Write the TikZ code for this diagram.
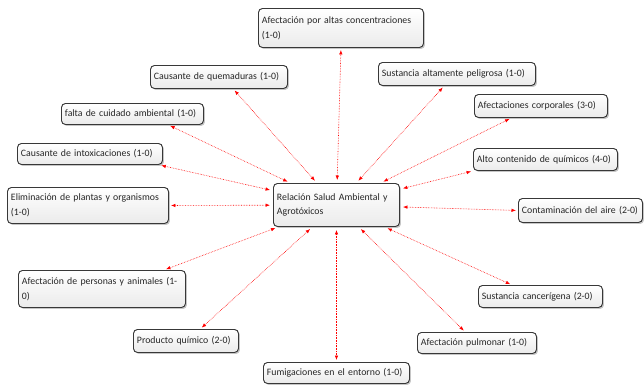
\documentclass[tikz,border=0pt]{standalone}
\usepackage{fontspec}
\setmainfont{Carlito}
\usetikzlibrary{arrows.meta,shadows}

\begin{document}
\begin{tikzpicture}[
    x=1pt, y=-1pt,
    font=\fontsize{9.8}{14.8}\selectfont,
    box/.style={draw=black!78, line width=0.95pt, rounded corners=4pt, top color=white, bottom color=black!8,
      drop shadow={shadow xshift=1.5pt, shadow yshift=-1.5pt, opacity=0.45},
      anchor=north west, align=left, inner xsep=3.5pt, inner ysep=2pt, text=black!85},
    link/.style={red, densely dotted, line width=0.6pt, {Latex[length=4.5pt,width=3.5pt]}-{Latex[length=4.5pt,width=3.5pt]}, shorten <=3pt, shorten >=2pt}
  ]
  \useasboundingbox (0,0) rectangle (644,384);

  % Central concept
  \node[box, text width=119pt, minimum height=43pt] at (273,183) (hub) {Relación Salud Ambiental y\\Agrotóxicos};

  % Surrounding concepts
  \node[box, text width=158pt, minimum height=39pt] at (258,8) (altas) {Afectación por altas concentraciones\\(1-0)};
  \node[box, text width=130pt, minimum height=23pt] at (150,65) (quem) {Causante de quemaduras (1-0)};
  \node[box, text width=150pt, minimum height=23pt] at (378,62) (pelig) {Sustancia altamente peligrosa (1-0)};
  \node[box, text width=135pt, minimum height=21pt] at (61,103) (falta) {falta de cuidado ambiental (1-0)};
  \node[box, text width=126pt, minimum height=23pt] at (474,94) (corp) {Afectaciones corporales (3-0)};
  \node[box, text width=138pt, minimum height=21pt] at (17,143) (intox) {Causante de intoxicaciones (1-0)};
  \node[box, text width=137pt, minimum height=22pt] at (473,148) (alto) {Alto contenido de químicos (4-0)};
  \node[box, text width=154pt, minimum height=36pt] at (7,187) (elim) {Eliminación de plantas y organismos\\(1-0)};
  \node[box, text width=117pt, minimum height=24pt] at (518,198) (contam) {Contaminación del aire (2-0)};
  \node[box, text width=160pt, minimum height=37pt] at (18,270) (pers) {Afectación de personas y animales (1-\\0)};
  \node[box, text width=117pt, minimum height=22pt] at (478,285) (cancer) {Sustancia cancerígena (2-0)};
  \node[box, text width=98pt, minimum height=23pt] at (133,329) (prod) {Producto químico (2-0)};
  \node[box, text width=112pt, minimum height=21pt] at (417,332) (pulm) {Afectación pulmonar (1-0)};
  \node[box, text width=139pt, minimum height=21pt] at (263,362) (fumig) {Fumigaciones en el entorno (1-0)};

  % Connectors
  \draw[link] (hub) -- (altas.south);
  \draw[link] (hub) -- (quem.-40);
  \draw[link] (hub) -- (pelig.-137);
  \draw[link] (hub) -- (falta.-17);
  \draw[link] (hub) -- (corp.-158);
  \draw[link] (hub) -- (intox.-9);
  \draw[link] (hub) -- (alto.-171);
  \draw[link] (hub) -- (elim.east);
  \draw[link] (hub) -- (contam.west);
  \draw[link] (hub) -- (pers.17);
  \draw[link] (hub) -- (prod.40);
  \draw[link] (hub) -- (fumig.north);
  \draw[link] (hub) -- (pulm.137);
  \draw[link] (hub) -- (cancer.158);

\end{tikzpicture}
\end{document}
